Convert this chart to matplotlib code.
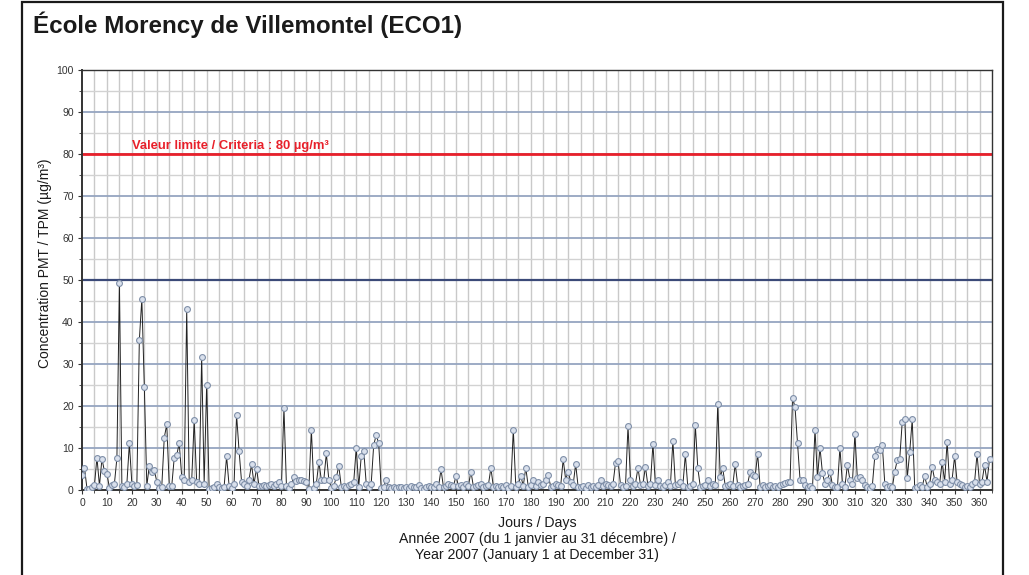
import matplotlib
matplotlib.use("Agg")
import matplotlib.pyplot as plt
from matplotlib.patches import Rectangle
from matplotlib.ticker import MultipleLocator

plt.rcParams['font.family'] = ['Liberation Sans', 'DejaVu Sans']

title = "École Morency de Villemontel (ECO1)"
ylabel = "Concentration PMT / TPM (µg/m³)"
xlabel_lines = ["Jours / Days",
                "Année 2007 (du 1 janvier au 31 décembre) /",
                "Year 2007 (January 1 at December 31)"]
limit_label = "Valeur limite / Criteria : 80 µg/m³"
limit_value = 80
x_ticks = list(range(0, 361, 10))
y_ticks = list(range(0, 101, 10))

# daily concentrations, day 0 .. 364
values = [
    3.6, 5.3, 0.3, 0.2, 0.8, 1.2, 7.7, 1.0, 7.4, 4.5,
    3.9, 0.5, 1.2, 1.5, 7.6, 49.2, 1.0, 0.8, 1.5, 11.1,
    1.5, 1.0, 1.2, 35.7, 45.5, 24.6, 1.0, 5.8, 4.3, 4.7,
    2.0, 0.5, 0.8, 12.5, 15.6, 1.0, 1.0, 7.7, 8.4, 11.1,
    3.2, 2.5, 43.0, 2.0, 2.3, 16.7, 2.0, 1.5, 31.7, 1.5,
    25.1, 0.2, 0.5, 0.8, 1.5, 0.8, 0.5, 0.8, 8.0, 1.0,
    0.5, 1.5, 17.9, 9.3, 2.0, 1.5, 1.0, 2.5, 6.1, 1.5,
    5.1, 1.0, 1.0, 1.2, 1.0, 1.2, 1.5, 1.0, 1.5, 2.0,
    1.0, 19.6, 1.0, 0.5, 1.5, 3.0, 2.2, 2.5, 2.5, 2.2,
    2.0, 0.3, 14.4, 0.5, 1.5, 6.7, 2.4, 2.5, 8.7, 2.5,
    0.5, 1.0, 3.0, 5.7, 0.8, 1.0, 0.8, 1.2, 1.5, 2.0,
    10.1, 0.8, 8.0, 9.4, 1.5, 0.8, 1.5, 10.7, 13.1, 11.1,
    0.5, 0.8, 2.5, 0.8, 0.5, 0.7, 0.5, 0.8, 0.6, 0.5,
    0.8, 0.5, 1.0, 0.6, 0.8, 1.2, 0.5, 0.3, 0.8, 1.0,
    0.6, 0.8, 1.5, 0.8, 4.9, 0.6, 1.0, 1.5, 1.2, 1.0,
    3.3, 1.0, 1.2, 0.8, 1.5, 1.0, 4.4, 0.8, 1.0, 1.2,
    1.5, 0.8, 1.0, 1.2, 5.2, 0.8, 1.0, 0.6, 1.0, 0.8,
    1.2, 0.5, 1.0, 14.4, 0.8, 1.5, 3.3, 1.0, 5.3, 0.8,
    1.2, 2.5, 1.0, 2.0, 1.2, 1.5, 2.5, 3.6, 0.8, 1.0,
    1.5, 1.2, 1.0, 7.3, 2.5, 4.4, 2.0, 1.2, 6.2, 0.8,
    0.6, 1.0, 0.5, 1.2, 0.8, 1.0, 0.6, 1.2, 2.4, 1.0,
    1.5, 1.2, 1.0, 1.5, 6.5, 7.0, 1.2, 0.8, 1.0, 15.2,
    2.5, 1.0, 1.5, 5.3, 1.2, 1.5, 5.5, 1.0, 1.5, 11.0,
    1.2, 2.5, 1.0, 0.6, 1.2, 2.0, 1.0, 11.7, 1.2, 1.5,
    2.0, 1.0, 8.5, 0.6, 1.0, 1.5, 15.5, 5.2, 0.8, 1.0,
    1.2, 2.5, 1.0, 1.5, 1.2, 20.5, 3.0, 5.2, 1.0, 1.2,
    1.5, 1.0, 6.2, 1.2, 0.8, 1.0, 1.2, 1.5, 4.4, 3.5,
    3.3, 8.6, 0.8, 1.2, 0.6, 1.0, 1.2, 0.8, 1.0, 0.6,
    1.2, 1.5, 1.6, 1.8, 2.0, 22.0, 19.7, 11.1, 2.5, 2.3,
    1.2, 0.8, 1.0, 0.5, 14.4, 3.0, 10.1, 4.0, 1.5, 2.5,
    4.4, 1.2, 0.8, 0.6, 10.1, 1.5, 0.8, 6.0, 2.5, 1.5,
    13.3, 2.8, 3.0, 2.5, 1.2, 0.8, 0.5, 1.0, 8.1, 9.7,
    9.5, 10.7, 1.5, 0.8, 1.0, 0.6, 4.4, 7.1, 7.5, 16.3,
    17.0, 2.8, 9.1, 16.8, 0.5, 0.8, 1.2, 0.8, 3.3, 0.8,
    1.5, 5.5, 2.5, 2.0, 1.5, 6.7, 2.0, 11.5, 1.5, 2.5,
    8.0, 2.0, 1.5, 1.2, 0.8, 1.0, 0.6, 1.5, 1.8, 8.6,
    1.5, 2.0, 5.9, 2.0, 7.3,
]
days = list(range(len(values)))

W, H = 1029, 575
fig = plt.figure(figsize=(W / 100, H / 100), dpi=100)
fig.patch.set_facecolor('white')

# outer frame
fig.add_artist(Rectangle((22 / W, -0.02), (1003 - 22) / W, 1.02 - 2 / H,
                         transform=fig.transFigure, fill=False,
                         edgecolor='#1a1a1a', linewidth=1.6))

fig.text(33 / W, 1 - 25 / H, title, fontsize=17.4, fontweight='bold',
         ha='left', va='center', color='#1a1a1a')

ax = fig.add_axes([82 / W, 1 - 490 / H, (992 - 82) / W, (490 - 70) / H])
ax.set_xlim(0, 365)
ax.set_ylim(0, 100)

# grid
for xv in range(5, 365, 5):
    ax.axvline(xv, color='#c9c9c9', linewidth=1.0, zorder=0)
for yv in range(5, 100, 10):
    ax.axhline(yv, color='#d2d2d2', linewidth=1.0, zorder=0)
for yv in range(10, 100, 10):
    if yv == 50:
        ax.axhline(yv, color='#3b4a78', linewidth=1.6, zorder=0.5)
    else:
        ax.axhline(yv, color='#95a5c0', linewidth=1.3, zorder=0.5)

ax.axhline(limit_value, color='#e8202a', linewidth=2.0, zorder=1)
ax.text(20, 81.3, limit_label, color='#e8202a', fontsize=9.4,
        fontweight='bold', ha='left', va='baseline')

ax.plot(days, values, color='#222222', linewidth=0.7, marker='o',
        markersize=4.2, markerfacecolor='#d9e0ec', markeredgecolor='#7f8fa8',
        markeredgewidth=0.8, zorder=3)

ax.set_xticks(x_ticks)
ax.set_yticks(y_ticks)
ax.xaxis.set_minor_locator(MultipleLocator(5))
ax.yaxis.set_minor_locator(MultipleLocator(5))
ax.tick_params(axis='both', which='major', labelsize=7.5, length=3,
               width=0.8, colors='#333333', pad=3)
ax.tick_params(axis='both', which='minor', length=2, width=0.6,
               colors='#333333')
for sp in ax.spines.values():
    sp.set_color('#333333')
    sp.set_linewidth(1.0)
ax.spines['left'].set_linewidth(1.4)
ax.spines['bottom'].set_linewidth(1.4)

fig.text(45 / W, 1 - 263 / H, ylabel, rotation=90, fontsize=10,
         ha='center', va='center', color='#1a1a1a')
for i, line in enumerate(xlabel_lines):
    fig.text(537 / W, 1 - (523 + 16 * i) / H, line, fontsize=10.2,
             ha='center', va='center', color='#1a1a1a')

fig.savefig('out.png', dpi=100, facecolor='white')
